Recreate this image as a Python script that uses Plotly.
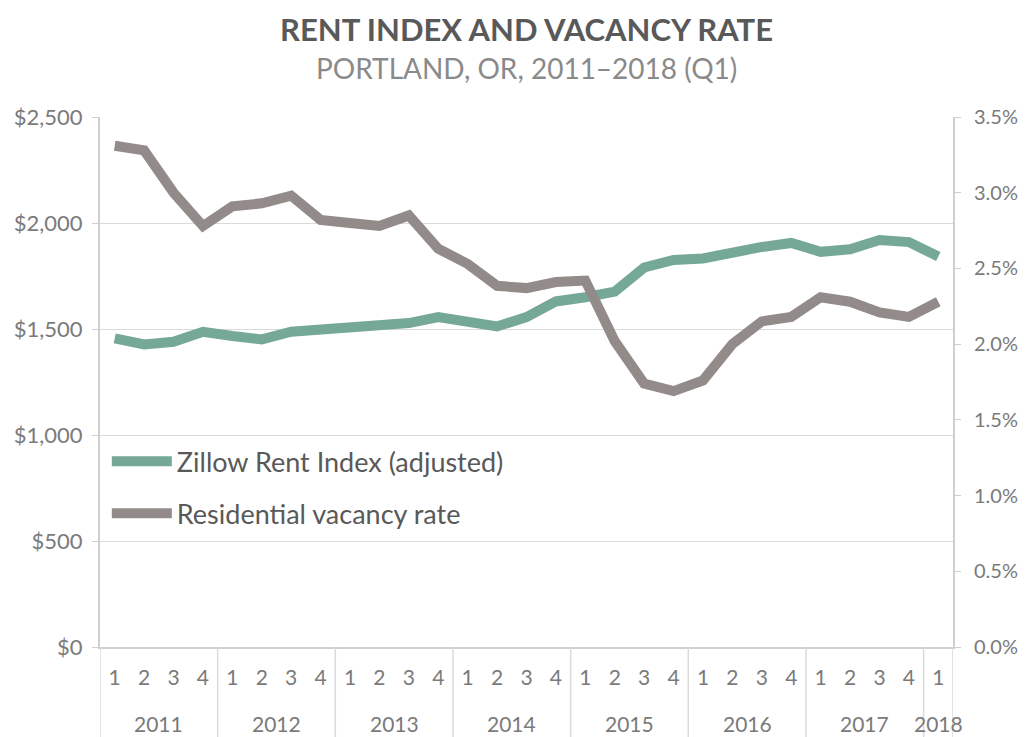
import plotly.graph_objects as go

years = ["2011"] * 4 + ["2012"] * 4 + ["2013"] * 4 + ["2014"] * 4 + ["2015"] * 4 + ["2016"] * 4 + ["2017"] * 4 + ["2018"]
quarters = ["1", "2", "3", "4"] * 7 + ["1"]

rent_index = [1456, 1427, 1440, 1487, 1467, 1451, 1487, 1498,
              1502, 1512, 1528, 1556, 1530, 1512, 1556, 1630,
              1650, 1676, 1790, 1826, 1833, 1862, 1887, 1906,
              1864, 1876, 1920, 1910, 1842]
vacancy_rate = [3.31, 3.28, 3.00, 2.78, 2.91, 2.93, 2.98, 2.82,
                2.80, 2.78, 2.85, 2.63, 2.53, 2.385, 2.37, 2.41,
                2.42, 2.02, 1.74, 1.69, 1.76, 2.00, 2.15, 2.18,
                2.31, 2.28, 2.21, 2.18, 2.28]

idx = list(range(len(quarters)))

FONT = "Lato"
GREEN = "#76a898"
GREY = "#938a8a"
TICK = "#7a7a7a"
AXIS = "#cfcfcf"
GRID = "#dadada"

fig = go.Figure()
fig.add_trace(go.Scatter(
    x=idx, y=rent_index, mode="lines",
    name="Zillow Rent Index (adjusted)", legendgroup="a",
    line=dict(color=GREEN, width=10), yaxis="y"))
fig.add_trace(go.Scatter(
    x=idx, y=vacancy_rate, mode="lines",
    name="Residential vacancy rate", legendgroup="b",
    line=dict(color=GREY, width=10), yaxis="y2"))

# year group labels and dividers derived from the category lists
year_names = []
for y in years:
    if y not in year_names:
        year_names.append(y)
annotations = []
shapes = []
for yname in year_names:
    members = [i for i, y in enumerate(years) if y == yname]
    annotations.append(dict(
        text=yname, x=sum(members) / len(members), y=-0.145,
        xref="x", yref="paper", showarrow=False, xanchor="center", yanchor="middle",
        font=dict(size=21, color=TICK, family=FONT)))
    shapes.append(dict(type="line", xref="x", yref="paper",
                       x0=members[0] - 0.5, x1=members[0] - 0.5, y0=0, y1=-0.17,
                       line=dict(color=GRID, width=1.5)))
shapes.append(dict(type="line", xref="x", yref="paper",
                   x0=idx[-1] + 0.5, x1=idx[-1] + 0.5, y0=0, y1=-0.17,
                   line=dict(color=GRID, width=1.5)))

annotations += [
    dict(text="<b>RENT INDEX AND VACANCY RATE</b>", x=0.5, y=(647 - 29) / 530,
         xref="paper", yref="paper", showarrow=False, xanchor="center", yanchor="middle",
         font=dict(size=31, color="#595959", family=FONT)),
    dict(text="PORTLAND, OR, 2011–2018 (Q1)", x=0.5, y=(647 - 68) / 530,
         xref="paper", yref="paper", showarrow=False, xanchor="center", yanchor="middle",
         font=dict(size=28, color="#8a8a8a", family=FONT)),
]

fig.update_layout(
    width=1019, height=729,
    margin=dict(l=92, r=74, t=109, b=90, autoexpand=False),
    paper_bgcolor="white", plot_bgcolor="white",
    font=dict(family=FONT, color=TICK, size=21),
    showlegend=True,
    hovermode=False,
    legend=dict(x=0.008, y=0.396, xanchor="left", yanchor="top",
                bgcolor="rgba(0,0,0,0)", font=dict(size=27, color="#595959"),
                tracegroupgap=14, traceorder="grouped", itemwidth=60),
    xaxis=dict(range=[-0.5, idx[-1] + 0.5], tickmode="array", tickvals=idx, ticktext=quarters,
               showline=True, linecolor=AXIS, linewidth=2, showgrid=False, zeroline=False,
               ticks="", ticklabelstandoff=11, tickfont=dict(size=21, color=TICK)),
    yaxis=dict(range=[0, 2500], dtick=500, tickprefix="$", tickformat=",.0f",
               showgrid=True, gridcolor=GRID, gridwidth=1,
               showline=True, linecolor=AXIS, linewidth=2,
               ticks="outside", ticklen=6, tickcolor=AXIS, ticklabelstandoff=5,
               tickfont=dict(size=22, color=TICK), zeroline=False),
    yaxis2=dict(range=[0, 3.5], dtick=0.5, tickformat=".1f", ticksuffix="%",
                overlaying="y", side="right", showgrid=False,
                showline=True, linecolor=AXIS, linewidth=2,
                ticks="outside", ticklen=6, tickcolor=AXIS, ticklabelstandoff=9,
                tickfont=dict(size=20, color=TICK), zeroline=False),
    annotations=annotations,
    shapes=shapes,
)

fig.write_html("out.html")
